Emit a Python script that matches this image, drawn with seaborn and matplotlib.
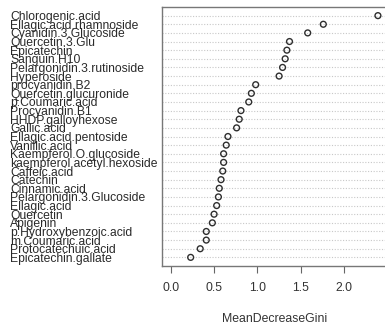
import matplotlib
matplotlib.use("Agg")
import matplotlib.pyplot as plt
import seaborn as sns
import pandas as pd

compounds = [
    "Chlorogenic.acid", "Ellagic.acid.rhamnoside", "Cyanidin.3.Glucoside",
    "Quercetin.3.Glu", "Epicatechin", "Sanguin.H10", "Pelargonidin.3.rutinoside",
    "Hyperoside", "procyanidin.B2", "Quercetin.glucuronide", "p.Coumaric.acid",
    "Procyanidin.B1", "HHDP.galloyhexose", "Gallic.acid", "Ellagic.acid.pentoside",
    "Vanillic.acid", "Kaempferol.O.glucoside", "kaempferol.acetyl.hexoside",
    "Caffeic.acid", "Catechin", "Cinnamic.acid", "Pelargonidin.3.Glucoside",
    "Ellagic.acid", "Quercetin", "Apigenin", "p.Hydroxybenzoic.acid",
    "m.Coumaric.acid", "Protocatechuic.acid", "Epicatechin.gallate",
]
gini = [
    2.39, 1.76, 1.58, 1.37, 1.34, 1.32, 1.29, 1.25, 0.98, 0.93, 0.90, 0.81,
    0.79, 0.76, 0.66, 0.64, 0.61, 0.61, 0.60, 0.58, 0.56, 0.55, 0.53, 0.50,
    0.48, 0.41, 0.41, 0.34, 0.23,
]
xticks = [0.0, 0.5, 1.0, 1.5, 2.0]
xticklabels = ["0.0", "0.5", "1.0", "1.5", "2.0"]
xlabel = "MeanDecreaseGini"

df = pd.DataFrame({"compound": compounds, "gini": gini})

sns.set_style("white")
plt.rcParams["font.family"] = ["Liberation Sans", "DejaVu Sans"]

fig = plt.figure(figsize=(3.85, 3.24), dpi=100)
ax = fig.add_axes([162.4 / 385, 1 - 266 / 324, (386.6 - 162.4) / 385, (266 - 7) / 324])

sns.stripplot(data=df, x="gini", y="compound", order=compounds, jitter=False,
              size=4.2, ax=ax, color="#333333")
for c in ax.collections:
    c.set_facecolor("none")
    c.set_edgecolor("#2e2e2e")
    c.set_linewidth(1.0)

n = len(compounds)
ax.set_ylim(n, -1)
ax.set_xlim(-0.096, 2.49)

ax.yaxis.grid(True, linestyle=(0, (1, 1.5)), color="#c8c8c8", linewidth=0.8)
ax.xaxis.grid(False)
ax.set_axisbelow(True)

ax.set_yticks(range(n))
ax.set_yticklabels(compounds, ha="left", fontsize=8.7, color="#2a2a2a")
ax.tick_params(axis="y", length=0, pad=(162.4 - 10) / (100 / 72))

ax.set_xticks(xticks)
ax.set_xticklabels(xticklabels, fontsize=8.8, color="#333333")
ax.tick_params(axis="x", direction="out", length=5, width=0.8, color="#666666",
               pad=6.5, bottom=True)

ax.set_xlabel(xlabel, fontsize=8.8, color="#333333", labelpad=14)
ax.set_ylabel("")

for s in ax.spines.values():
    s.set_visible(True)
    s.set_color("#777777")
    s.set_linewidth(1.0)

fig.savefig("out.png", dpi=100)
